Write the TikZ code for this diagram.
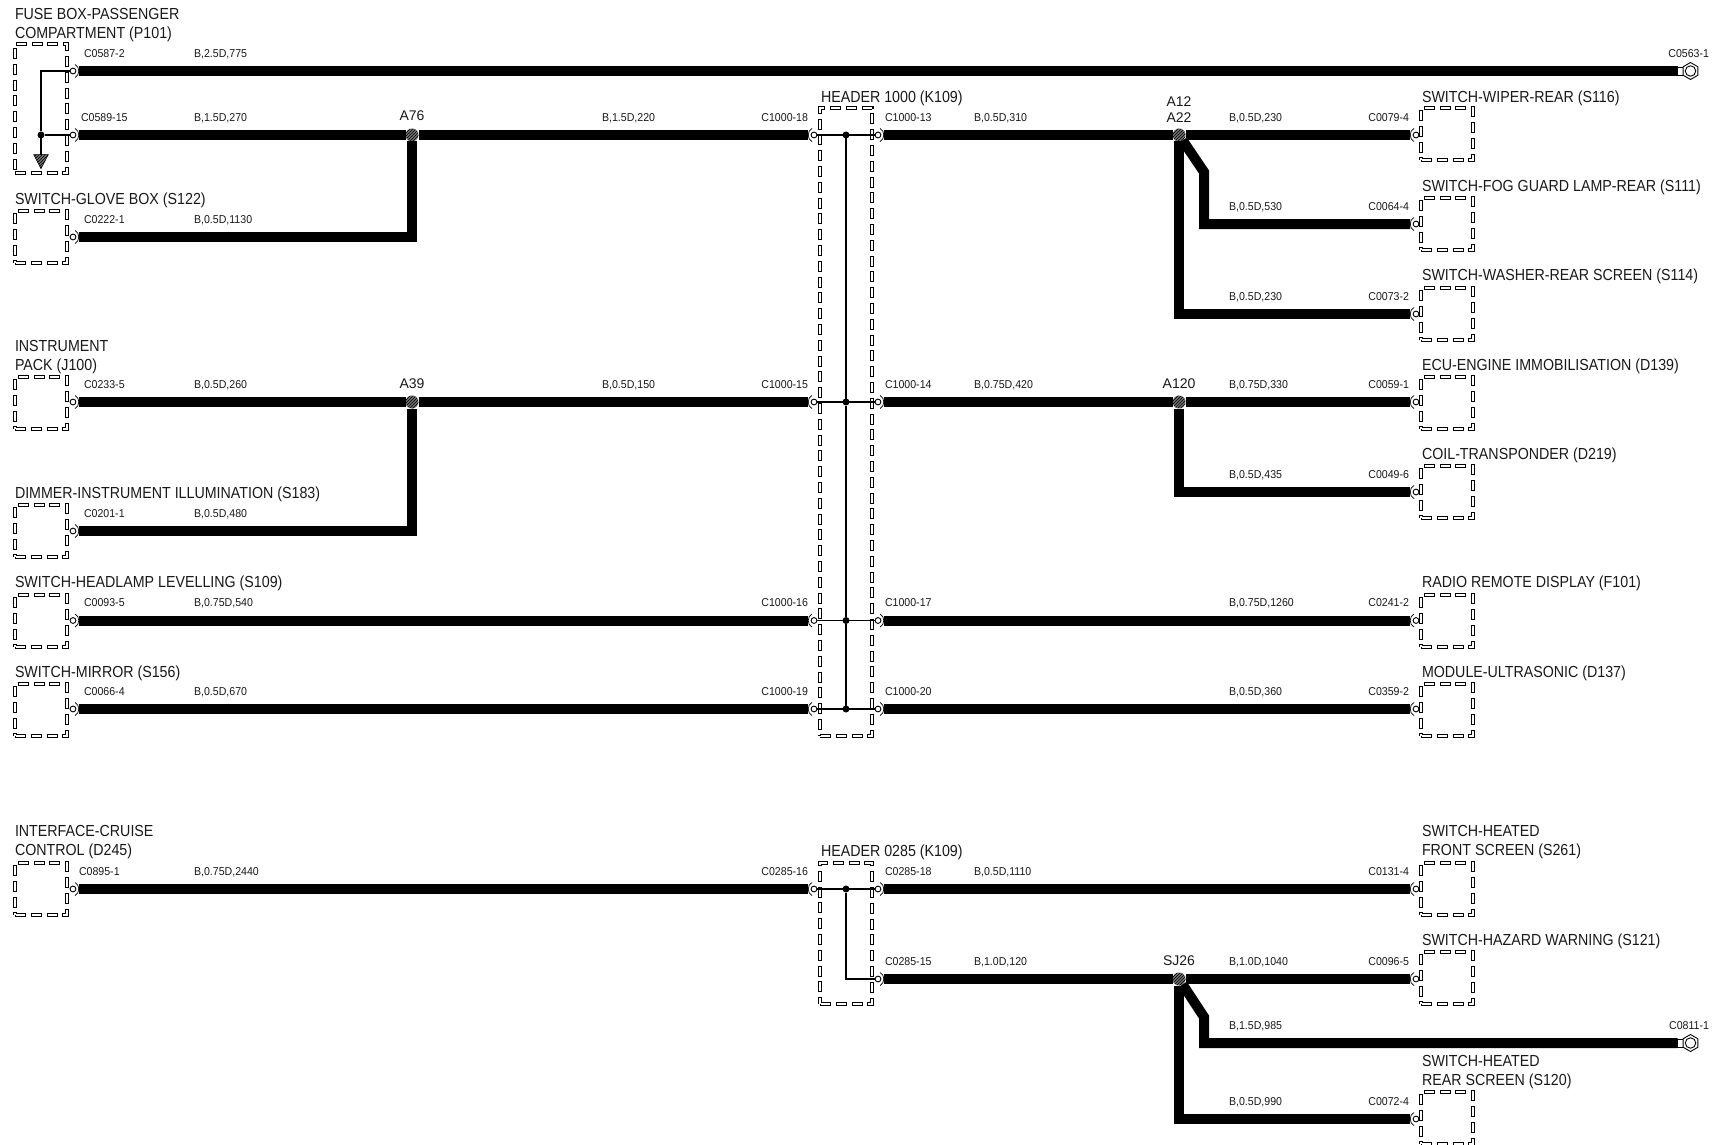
\documentclass[tikz,border=0pt]{standalone}
\usepackage{fontspec}
\usetikzlibrary{shapes.geometric,patterns}
\setmainfont{Liberation Sans}
\newfontfamily\bigfam[FakeStretch=0.89]{Liberation Sans}
\newfontfamily\smallfam[FakeStretch=0.93]{Liberation Sans}
\tikzset{
  big/.style={inner sep=0pt,outer sep=0pt,anchor=base west,align=left,font=\bigfam\fontsize{16}{19}\selectfont,text=black!90},
  small/.style={inner sep=0pt,outer sep=0pt,anchor=base west,font=\smallfam\fontsize{11.4}{13}\selectfont,text=black!90},
  smallr/.style={small,anchor=base east},
  splicetext/.style={inner sep=0pt,outer sep=0pt,anchor=base,align=center,font=\fontsize{14}{16}\selectfont,text=black!90},
  compbox/.style={draw,line width=3.8pt,anchor=north west,inner sep=0pt,outer sep=0pt,minimum width=52pt,minimum height=#1,
    dash pattern=on 11pt off 4.8pt,
    postaction={draw=white,line width=1.8pt,dash pattern=on 9pt off 6.8pt,dash phase=14.8pt}},
  compbox/.default=52pt,
  wire/.style={line width=10pt,line cap=butt,miter limit=10},
  wl/.style={wire,shorten <=3.1pt},
  wr/.style={wire,shorten >=3.1pt},
  wb/.style={wire,shorten <=3.1pt,shorten >=3.1pt},
  thinw/.style={line width=1.6pt},
  busw/.style={line width=1.2pt},
  pinc/.style={circle,draw,line width=0.9pt,fill=white,minimum size=5.8pt,inner sep=0pt,outer sep=0pt},
  parc/.style={line width=0.7pt},
  dotn/.style={circle,fill=black,minimum size=7pt,inner sep=0pt,outer sep=0pt},
  splice/.style={circle,fill=black!55,minimum size=13pt,inner sep=0pt,outer sep=0pt,postaction={pattern=north east lines,pattern color=black}},
  hexn/.style={regular polygon,regular polygon sides=6,shape border rotate=30,draw,line width=0.9pt,fill=white,minimum size=17pt,inner sep=0pt,outer sep=0pt},
  ringn/.style={circle,draw,line width=0.9pt,minimum size=10.5pt,inner sep=0pt,outer sep=0pt},
  stubn/.style={rectangle,draw,line width=0.9pt,fill=white,minimum width=6pt,minimum height=8pt,inner sep=0pt,outer sep=0pt},
  gnd/.style={fill=black!55,draw=black,line width=0.6pt,postaction={pattern=north east lines,pattern color=black}},
}
% pin whose wire leaves to the right
\newcommand{\rpin}[3]{\node[pinc] (#1) at (#2,#3) {};\draw[parc] (#1) ++(2,-6.5) .. controls +(5,2) and +(5,-2) .. +(0,13);}
% pin whose wire arrives from the left
\newcommand{\lpin}[3]{\node[pinc] (#1) at (#2,#3) {};\draw[parc] (#1) ++(-2,-6.5) .. controls +(-5,2) and +(-5,-2) .. +(0,13);}
\begin{document}
\begin{tikzpicture}[x=1pt,y=-1pt]
\useasboundingbox (0,0) rectangle (1719,1145);
% ---- component boxes
\node[compbox=129pt] (bFuse) at (15,44) {};
\node[compbox] (bGlove) at (15,211) {};
\node[compbox] (bInst) at (15,377) {};
\node[compbox] (bDim) at (15,505) {};
\node[compbox] (bHead) at (15,595) {};
\node[compbox] (bMirr) at (15,684) {};
\node[compbox] (bCruise) at (15,863) {};
\node[compbox=628pt] (bH1000) at (820,108) {};
\node[compbox=141pt] (bH0285) at (820,863) {};
\node[compbox] (bWiper) at (1421,108) {};
\node[compbox] (bFog) at (1421,198) {};
\node[compbox] (bWash) at (1421,288) {};
\node[compbox] (bEcu) at (1421,377) {};
\node[compbox] (bCoil) at (1421,466) {};
\node[compbox] (bRadio) at (1421,595) {};
\node[compbox] (bMod) at (1421,684) {};
\node[compbox] (bFront) at (1421,863) {};
\node[compbox] (bHaz) at (1421,952) {};
\node[compbox] (bRear) at (1421,1092) {};
% ---- pins
\rpin{pA}{73}{71}\rpin{pB}{73}{135}\rpin{pC}{73}{237}\rpin{pD}{73}{402}\rpin{pE}{73}{531}\rpin{pF}{73}{620.5}\rpin{pG}{73}{709}\rpin{pH}{73}{889}
\lpin{hA}{814}{135}\lpin{hB}{814}{402}\lpin{hC}{814}{620.5}\lpin{hD}{814}{709}\lpin{hE}{814}{889}
\rpin{jA}{878}{135}\rpin{jB}{878}{402}\rpin{jC}{878}{620.5}\rpin{jD}{878}{709}\rpin{jE}{878}{889}\rpin{jF}{878}{979}
\lpin{qA}{1416}{135}\lpin{qB}{1416}{224}\lpin{qC}{1416}{314}\lpin{qD}{1416}{402}\lpin{qE}{1416}{492}\lpin{qF}{1416}{620.5}\lpin{qG}{1416}{709}\lpin{qH}{1416}{889}\lpin{qI}{1416}{979}\lpin{qJ}{1416}{1119}
% ---- eyelet terminals
\node[stubn] (u1) at (1680.5,71) {};
\node[hexn] (t1) at (1690.5,71) {};
\node[ringn] (v1) at (t1) {};
\node[stubn] (u2) at (1680.5,1043) {};
\node[hexn] (t2) at (1690.5,1043) {};
\node[ringn] (v2) at (t2) {};
% ---- splices
\node[splice] (sA76) at (412,135) {};
\node[splice] (sA39) at (412,402) {};
\node[splice] (sA12) at (1179,135) {};
\node[splice] (sA120) at (1179,402) {};
\node[splice] (sSJ) at (1179,979) {};
% ---- header and fuse box dots
\node[dotn] (d1) at (846,135) {};
\node[dotn] (d2) at (846,402) {};
\node[dotn] (d3) at (846,620.5) {};
\node[dotn] (d4) at (846,709) {};
\node[dotn] (d5) at (846,889) {};
\node[dotn] (d6) at (41,135) {};
\coordinate (e1) at (846,979);
\coordinate (f1) at (41,71);
\node[isosceles triangle,isosceles triangle apex angle=55,shape border rotate=-90,gnd,minimum height=14pt,inner sep=0pt,outer sep=0pt] (g1) at (41,159) {};
% ---- wires
\draw[wl] (pA) -- (u1.west);
\draw[wl] (pB) -- (sA76);
\draw[wr] (sA76) -- (hA);
\draw[wl] (jA) -- (sA12);
\draw[wr] (sA12) -- (qA);
\draw[wl] (pC) -| (sA76);
\draw[wl] (pD) -- (sA39);
\draw[wr] (sA39) -- (hB);
\draw[wl] (pE) -| (sA39);
\draw[wb] (pF) -- (hC);
\draw[wb] (pG) -- (hD);
\draw[wb] (pH) -- (hE);
\draw[wl] (jB) -- (sA120);
\draw[wr] (sA120) -- (qD);
\draw[wr] (sA120) |- (qE);
\draw[wb] (jC) -- (qF);
\draw[wb] (jD) -- (qG);
\draw[wb] (jE) -- (qH);
\draw[wl] (jF) -- (sSJ);
\draw[wr] (sSJ) -- (qI);
\draw[wr] (sA12) |- (qC);
\draw[wr] (sA12) -- (1204,172) |- (qB);
\draw[wr] (sSJ) |- (qJ);
\draw[wire] (sSJ) -- (1204,1017) |- (u2.west);
% ---- internal links
\draw[thinw] (pA) -- (f1) -- (d6);
\draw[thinw] (d6) -- (pB);
\draw[thinw] (d6) -- (g1);
\draw[thinw] (hA) -- (jA);
\draw[thinw] (hB) -- (jB);
\draw[thinw] (hC) -- (jC);
\draw[thinw] (hD) -- (jD);
\draw[thinw] (hE) -- (jE);
\draw[busw] (d1) -- (d2);
\draw[busw] (d2) -- (d3);
\draw[busw] (d3) -- (d4);
\draw[thinw] (d5) -- (e1) -- (jF);
% ---- big labels
\node[big] (l1) at (15,38.2) {FUSE BOX-PASSENGER\\COMPARTMENT (P101)};
\node[big] (l2) at (15,204.2) {SWITCH-GLOVE BOX (S122)};
\node[big] (l3) at (15,370.2) {INSTRUMENT\\PACK (J100)};
\node[big] (l4) at (15,498.2) {DIMMER-INSTRUMENT ILLUMINATION (S183)};
\node[big] (l5) at (15,587.7) {SWITCH-HEADLAMP LEVELLING (S109)};
\node[big] (l6) at (15,677.2) {SWITCH-MIRROR (S156)};
\node[big] (l7) at (15,855.5) {INTERFACE-CRUISE\\CONTROL (D245)};
\node[big] (l8) at (821,102.2) {HEADER 1000 (K109)};
\node[big] (l9) at (821,856.5) {HEADER 0285 (K109)};
\node[big] (r1) at (1422,102.2) {SWITCH-WIPER-REAR (S116)};
\node[big] (r2) at (1422,191.2) {SWITCH-FOG GUARD LAMP-REAR (S111)};
\node[big] (r3) at (1422,280.7) {SWITCH-WASHER-REAR SCREEN (S114)};
\node[big] (r4) at (1422,370.2) {ECU-ENGINE IMMOBILISATION (D139)};
\node[big] (r5) at (1422,459.7) {COIL-TRANSPONDER (D219)};
\node[big] (r6) at (1422,587.7) {RADIO REMOTE DISPLAY (F101)};
\node[big] (r7) at (1422,677.2) {MODULE-ULTRASONIC (D137)};
\node[big] (r8) at (1422,855.5) {SWITCH-HEATED\\FRONT SCREEN (S261)};
\node[big] (r9) at (1422,945) {SWITCH-HAZARD WARNING (S121)};
\node[big] (r10) at (1422,1085) {SWITCH-HEATED\\REAR SCREEN (S120)};
% ---- splice labels
\node[splicetext] (s1) at (412,121) {A76};
\node[splicetext] (s2) at (412,388) {A39};
\node[splicetext] (s3) at (1179,107) {A12};
\node[splicetext] (s4) at (1179,123) {A22};
\node[splicetext] (s5) at (1179,388) {A120};
\node[splicetext] (s6) at (1179,965) {SJ26};
% ---- small labels: connector ids
\node[small] (c1) at (84,57.5) {C0587-2};
\node[small] (c2) at (81,121.2) {C0589-15};
\node[small] (c3) at (84,223.2) {C0222-1};
\node[small] (c4) at (84,388.2) {C0233-5};
\node[small] (c5) at (84,517.2) {C0201-1};
\node[small] (c6) at (84,606.7) {C0093-5};
\node[small] (c7) at (84,695.2) {C0066-4};
\node[small] (c8) at (79,875.2) {C0895-1};
\node[smallr] (c9) at (808,121.2) {C1000-18};
\node[smallr] (c10) at (808,388.2) {C1000-15};
\node[smallr] (c11) at (808,606.7) {C1000-16};
\node[smallr] (c12) at (808,695.2) {C1000-19};
\node[smallr] (c13) at (808,875.2) {C0285-16};
\node[small] (c14) at (885,121.2) {C1000-13};
\node[small] (c15) at (885,388.2) {C1000-14};
\node[small] (c16) at (885,606.7) {C1000-17};
\node[small] (c17) at (885,695.2) {C1000-20};
\node[small] (c18) at (885,875.2) {C0285-18};
\node[small] (c19) at (885,965.2) {C0285-15};
\node[smallr] (c20) at (1409,121.2) {C0079-4};
\node[smallr] (c21) at (1409,210.2) {C0064-4};
\node[smallr] (c22) at (1409,300.2) {C0073-2};
\node[smallr] (c23) at (1409,388.2) {C0059-1};
\node[smallr] (c24) at (1409,478.2) {C0049-6};
\node[smallr] (c25) at (1409,606.7) {C0241-2};
\node[smallr] (c26) at (1409,695.2) {C0359-2};
\node[smallr] (c27) at (1409,875.2) {C0131-4};
\node[smallr] (c28) at (1409,965.2) {C0096-5};
\node[smallr] (c29) at (1409,1105.2) {C0072-4};
\node[smallr] (c30) at (1709,57.5) {C0563-1};
\node[smallr] (c31) at (1709,1029) {C0811-1};
% ---- small labels: wire data
\node[small] (w1) at (194,57.5) {B,2.5D,775};
\node[small] (w2) at (194,121.2) {B,1.5D,270};
\node[small] (w3) at (194,223.2) {B,0.5D,1130};
\node[small] (w4) at (194,388.2) {B,0.5D,260};
\node[small] (w5) at (194,517.2) {B,0.5D,480};
\node[small] (w6) at (194,606.7) {B,0.75D,540};
\node[small] (w7) at (194,695.2) {B,0.5D,670};
\node[small] (w8) at (194,875.2) {B,0.75D,2440};
\node[small] (w9) at (602,121.2) {B,1.5D,220};
\node[small] (w10) at (602,388.2) {B,0.5D,150};
\node[small] (w11) at (974,121.2) {B,0.5D,310};
\node[small] (w12) at (974,388.2) {B,0.75D,420};
\node[small] (w13) at (974,875.2) {B,0.5D,1110};
\node[small] (w14) at (974,965.2) {B,1.0D,120};
\node[small] (w15) at (1229,121.2) {B,0.5D,230};
\node[small] (w16) at (1229,210.2) {B,0.5D,530};
\node[small] (w17) at (1229,300.2) {B,0.5D,230};
\node[small] (w18) at (1229,388.2) {B,0.75D,330};
\node[small] (w19) at (1229,478.2) {B,0.5D,435};
\node[small] (w20) at (1229,606.7) {B,0.75D,1260};
\node[small] (w21) at (1229,695.2) {B,0.5D,360};
\node[small] (w22) at (1229,965.2) {B,1.0D,1040};
\node[small] (w23) at (1229,1029) {B,1.5D,985};
\node[small] (w24) at (1229,1105.2) {B,0.5D,990};
\end{tikzpicture}
\end{document}
